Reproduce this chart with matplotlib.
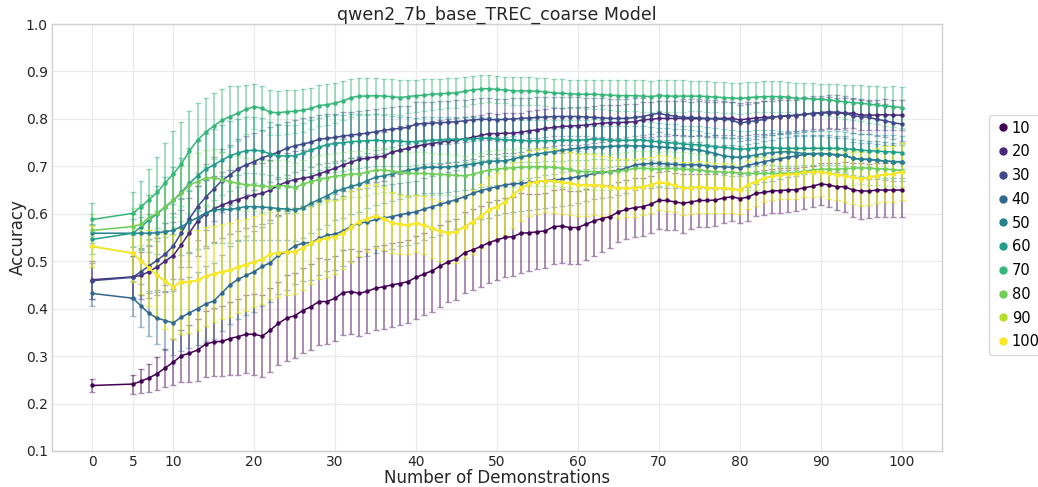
import numpy as np
import matplotlib
matplotlib.use("Agg")
import matplotlib.pyplot as plt
from matplotlib.lines import Line2D

# number of in-context demonstrations
demos = [0] + list(range(5, 101))
settings = ["10", "20", "30", "40", "50", "60", "70", "80", "90", "100"]

acc_10 = [
    0.238, 0.241, 0.247, 0.254, 0.263, 0.275, 0.287, 0.301, 0.306, 0.313,
    0.325, 0.330, 0.331, 0.337, 0.341, 0.346, 0.346, 0.342, 0.355, 0.369,
    0.380, 0.385, 0.396, 0.404, 0.415, 0.415, 0.422, 0.434, 0.436, 0.432,
    0.437, 0.443, 0.446, 0.450, 0.453, 0.457, 0.466, 0.473, 0.480, 0.490,
    0.499, 0.504, 0.518, 0.524, 0.531, 0.539, 0.545, 0.550, 0.552, 0.559,
    0.560, 0.562, 0.564, 0.573, 0.574, 0.571, 0.571, 0.578, 0.585, 0.590,
    0.594, 0.604, 0.609, 0.613, 0.615, 0.620, 0.628, 0.628, 0.625, 0.622,
    0.625, 0.628, 0.628, 0.629, 0.633, 0.636, 0.632, 0.635, 0.643, 0.645,
    0.648, 0.649, 0.650, 0.651, 0.655, 0.658, 0.663, 0.661, 0.657, 0.657,
    0.650, 0.648, 0.648, 0.650, 0.650, 0.650, 0.650]
acc_20 = [
    0.461, 0.467, 0.470, 0.478, 0.488, 0.500, 0.512, 0.535, 0.560, 0.585,
    0.600, 0.610, 0.618, 0.625, 0.630, 0.636, 0.640, 0.643, 0.650, 0.660,
    0.667, 0.672, 0.675, 0.678, 0.684, 0.690, 0.696, 0.703, 0.709, 0.715,
    0.717, 0.720, 0.721, 0.730, 0.734, 0.738, 0.742, 0.746, 0.748, 0.751,
    0.754, 0.755, 0.758, 0.761, 0.765, 0.769, 0.769, 0.770, 0.770, 0.772,
    0.775, 0.777, 0.780, 0.782, 0.784, 0.785, 0.786, 0.787, 0.789, 0.791,
    0.792, 0.792, 0.793, 0.794, 0.798, 0.799, 0.801, 0.801, 0.801, 0.801,
    0.800, 0.801, 0.800, 0.801, 0.801, 0.801, 0.798, 0.800, 0.802, 0.803,
    0.804, 0.805, 0.806, 0.807, 0.810, 0.811, 0.812, 0.813, 0.812, 0.812,
    0.812, 0.808, 0.808, 0.808, 0.809, 0.808, 0.808]
acc_30 = [
    0.459, 0.466, 0.478, 0.490, 0.502, 0.515, 0.532, 0.560, 0.590, 0.615,
    0.635, 0.652, 0.670, 0.682, 0.695, 0.703, 0.710, 0.718, 0.724, 0.730,
    0.738, 0.743, 0.747, 0.751, 0.757, 0.759, 0.761, 0.764, 0.766, 0.768,
    0.770, 0.773, 0.776, 0.778, 0.780, 0.782, 0.789, 0.790, 0.791, 0.792,
    0.793, 0.794, 0.796, 0.798, 0.799, 0.799, 0.798, 0.799, 0.800, 0.801,
    0.802, 0.803, 0.804, 0.805, 0.805, 0.805, 0.805, 0.804, 0.803, 0.802,
    0.801, 0.801, 0.801, 0.803, 0.805, 0.809, 0.812, 0.808, 0.806, 0.803,
    0.803, 0.802, 0.801, 0.800, 0.799, 0.798, 0.791, 0.794, 0.796, 0.799,
    0.803, 0.806, 0.807, 0.808, 0.810, 0.812, 0.813, 0.815, 0.814, 0.813,
    0.806, 0.805, 0.803, 0.799, 0.796, 0.792, 0.789]
acc_40 = [
    0.432, 0.422, 0.406, 0.390, 0.380, 0.375, 0.370, 0.382, 0.391, 0.400,
    0.410, 0.416, 0.433, 0.450, 0.462, 0.470, 0.478, 0.489, 0.497, 0.513,
    0.520, 0.532, 0.538, 0.539, 0.548, 0.555, 0.557, 0.564, 0.574, 0.580,
    0.583, 0.588, 0.591, 0.594, 0.598, 0.601, 0.604, 0.610, 0.615, 0.620,
    0.625, 0.630, 0.636, 0.643, 0.649, 0.653, 0.657, 0.661, 0.663, 0.664,
    0.666, 0.668, 0.670, 0.671, 0.673, 0.675, 0.678, 0.681, 0.685, 0.687,
    0.689, 0.692, 0.696, 0.703, 0.705, 0.706, 0.706, 0.705, 0.704, 0.703,
    0.703, 0.703, 0.701, 0.699, 0.699, 0.698, 0.697, 0.702, 0.706, 0.710,
    0.713, 0.716, 0.719, 0.722, 0.725, 0.726, 0.727, 0.726, 0.724, 0.723,
    0.717, 0.715, 0.714, 0.713, 0.711, 0.710, 0.709]
acc_50 = [
    0.559, 0.559, 0.559, 0.559, 0.560, 0.562, 0.565, 0.573, 0.583, 0.592,
    0.602, 0.608, 0.609, 0.609, 0.612, 0.615, 0.615, 0.614, 0.613, 0.611,
    0.610, 0.608, 0.612, 0.622, 0.630, 0.638, 0.647, 0.652, 0.658, 0.662,
    0.670, 0.677, 0.680, 0.684, 0.688, 0.692, 0.695, 0.698, 0.698, 0.698,
    0.699, 0.700, 0.703, 0.705, 0.708, 0.710, 0.711, 0.712, 0.715, 0.720,
    0.723, 0.726, 0.729, 0.731, 0.734, 0.736, 0.738, 0.740, 0.741, 0.741,
    0.742, 0.743, 0.743, 0.743, 0.743, 0.742, 0.741, 0.740, 0.739, 0.738,
    0.736, 0.734, 0.731, 0.727, 0.722, 0.720, 0.719, 0.721, 0.724, 0.727,
    0.729, 0.730, 0.731, 0.729, 0.727, 0.727, 0.727, 0.726, 0.724, 0.723,
    0.717, 0.715, 0.715, 0.713, 0.711, 0.710, 0.710]
acc_60 = [
    0.546, 0.559, 0.572, 0.587, 0.600, 0.614, 0.628, 0.645, 0.664, 0.680,
    0.694, 0.703, 0.713, 0.722, 0.728, 0.733, 0.734, 0.732, 0.726, 0.722,
    0.722, 0.722, 0.728, 0.734, 0.740, 0.746, 0.748, 0.750, 0.752, 0.753,
    0.754, 0.755, 0.754, 0.754, 0.753, 0.752, 0.752, 0.754, 0.755, 0.756,
    0.757, 0.757, 0.757, 0.758, 0.759, 0.759, 0.757, 0.756, 0.755, 0.754,
    0.754, 0.754, 0.754, 0.754, 0.755, 0.755, 0.755, 0.756, 0.758, 0.757,
    0.755, 0.755, 0.755, 0.755, 0.756, 0.753, 0.752, 0.750, 0.749, 0.747,
    0.746, 0.745, 0.743, 0.741, 0.740, 0.738, 0.736, 0.737, 0.739, 0.740,
    0.739, 0.738, 0.738, 0.738, 0.738, 0.738, 0.738, 0.738, 0.738, 0.737,
    0.736, 0.734, 0.733, 0.732, 0.731, 0.730, 0.729]
acc_70 = [
    0.588, 0.601, 0.615, 0.630, 0.645, 0.665, 0.684, 0.705, 0.733, 0.755,
    0.772, 0.785, 0.797, 0.805, 0.812, 0.820, 0.826, 0.822, 0.814, 0.813,
    0.815, 0.816, 0.818, 0.822, 0.828, 0.830, 0.833, 0.838, 0.845, 0.848,
    0.848, 0.849, 0.848, 0.847, 0.845, 0.847, 0.849, 0.850, 0.852, 0.853,
    0.854, 0.855, 0.858, 0.861, 0.863, 0.864, 0.862, 0.861, 0.859, 0.859,
    0.859, 0.858, 0.857, 0.855, 0.854, 0.853, 0.852, 0.852, 0.852, 0.851,
    0.850, 0.849, 0.849, 0.849, 0.848, 0.847, 0.849, 0.848, 0.848, 0.848,
    0.848, 0.848, 0.847, 0.846, 0.845, 0.844, 0.843, 0.845, 0.846, 0.847,
    0.847, 0.847, 0.846, 0.843, 0.843, 0.842, 0.841, 0.840, 0.838, 0.836,
    0.834, 0.833, 0.831, 0.829, 0.827, 0.826, 0.824]
acc_80 = [
    0.565, 0.573, 0.578, 0.592, 0.601, 0.615, 0.629, 0.643, 0.661, 0.668,
    0.675, 0.676, 0.672, 0.668, 0.664, 0.661, 0.660, 0.658, 0.657, 0.659,
    0.659, 0.655, 0.662, 0.668, 0.672, 0.676, 0.679, 0.681, 0.684, 0.684,
    0.688, 0.692, 0.692, 0.690, 0.687, 0.685, 0.685, 0.685, 0.684, 0.683,
    0.682, 0.681, 0.680, 0.683, 0.688, 0.692, 0.694, 0.696, 0.697, 0.698,
    0.699, 0.699, 0.699, 0.698, 0.696, 0.694, 0.689, 0.689, 0.689, 0.689,
    0.689, 0.690, 0.692, 0.696, 0.696, 0.695, 0.694, 0.696, 0.695, 0.694,
    0.693, 0.692, 0.690, 0.689, 0.688, 0.687, 0.686, 0.685, 0.685, 0.685,
    0.685, 0.685, 0.686, 0.686, 0.690, 0.692, 0.694, 0.694, 0.694, 0.695,
    0.696, 0.697, 0.696, 0.695, 0.694, 0.693, 0.691]
acc_100 = [
    0.531, 0.517, 0.500, 0.486, 0.470, 0.458, 0.446, 0.457, 0.456, 0.460,
    0.468, 0.473, 0.478, 0.481, 0.488, 0.493, 0.499, 0.504, 0.515, 0.518,
    0.519, 0.520, 0.527, 0.538, 0.545, 0.548, 0.552, 0.559, 0.573, 0.583,
    0.590, 0.595, 0.590, 0.581, 0.578, 0.576, 0.580, 0.576, 0.569, 0.563,
    0.560, 0.562, 0.573, 0.583, 0.595, 0.608, 0.615, 0.625, 0.640, 0.654,
    0.664, 0.668, 0.670, 0.669, 0.666, 0.664, 0.661, 0.661, 0.661, 0.659,
    0.657, 0.654, 0.654, 0.654, 0.657, 0.661, 0.666, 0.664, 0.660, 0.654,
    0.655, 0.657, 0.655, 0.654, 0.654, 0.653, 0.650, 0.661, 0.668, 0.675,
    0.679, 0.682, 0.683, 0.684, 0.687, 0.688, 0.689, 0.685, 0.682, 0.680,
    0.677, 0.673, 0.677, 0.680, 0.683, 0.683, 0.689]
# the 90 runs came out the same as the 100 runs
acc_90 = list(acc_100)

std_10 = [
    0.014, 0.020, 0.025, 0.030, 0.035, 0.040, 0.048, 0.055, 0.060, 0.065,
    0.070, 0.072, 0.074, 0.076, 0.080, 0.082, 0.085, 0.086, 0.088, 0.088,
    0.090, 0.090, 0.090, 0.091, 0.091, 0.090, 0.090, 0.090, 0.090, 0.089,
    0.089, 0.089, 0.089, 0.088, 0.088, 0.088, 0.088, 0.087, 0.087, 0.087,
    0.086, 0.086, 0.086, 0.085, 0.085, 0.085, 0.085, 0.084, 0.084, 0.084,
    0.081, 0.079, 0.079, 0.078, 0.078, 0.077, 0.076, 0.075, 0.073, 0.070,
    0.066, 0.063, 0.063, 0.062, 0.061, 0.060, 0.060, 0.062, 0.060, 0.062,
    0.058, 0.055, 0.056, 0.054, 0.053, 0.052, 0.051, 0.050, 0.048, 0.047,
    0.047, 0.047, 0.046, 0.045, 0.044, 0.043, 0.045, 0.047, 0.050, 0.053,
    0.056, 0.058, 0.057, 0.057, 0.056, 0.056, 0.056]
std_20 = [
    0.040, 0.045, 0.050, 0.055, 0.060, 0.065, 0.070, 0.072, 0.073, 0.073,
    0.072, 0.070, 0.069, 0.068, 0.067, 0.066, 0.065, 0.064, 0.063, 0.062,
    0.061, 0.060, 0.059, 0.058, 0.057, 0.056, 0.055, 0.055, 0.054, 0.053,
    0.053, 0.052, 0.051, 0.051, 0.050, 0.049, 0.048, 0.048, 0.047, 0.047,
    0.046, 0.046, 0.045, 0.045, 0.044, 0.043, 0.042, 0.042, 0.042, 0.041,
    0.041, 0.041, 0.040, 0.040, 0.040, 0.040, 0.040, 0.039, 0.039, 0.039,
    0.038, 0.038, 0.038, 0.038, 0.037, 0.037, 0.037, 0.037, 0.036, 0.036,
    0.036, 0.036, 0.036, 0.035, 0.035, 0.035, 0.035, 0.035, 0.034, 0.034,
    0.034, 0.034, 0.034, 0.033, 0.033, 0.033, 0.033, 0.033, 0.033, 0.032,
    0.032, 0.032, 0.032, 0.032, 0.032, 0.032, 0.032]
std_30 = [
    0.038, 0.045, 0.050, 0.056, 0.062, 0.066, 0.070, 0.072, 0.072, 0.071,
    0.070, 0.068, 0.066, 0.064, 0.062, 0.061, 0.060, 0.059, 0.058, 0.057,
    0.056, 0.055, 0.054, 0.053, 0.052, 0.051, 0.050, 0.050, 0.049, 0.049,
    0.048, 0.048, 0.047, 0.047, 0.047, 0.046, 0.046, 0.046, 0.045, 0.045,
    0.045, 0.045, 0.044, 0.044, 0.044, 0.044, 0.044, 0.043, 0.043, 0.043,
    0.043, 0.043, 0.042, 0.042, 0.042, 0.042, 0.042, 0.041, 0.041, 0.041,
    0.041, 0.041, 0.040, 0.040, 0.040, 0.040, 0.040, 0.040, 0.040, 0.039,
    0.039, 0.039, 0.039, 0.039, 0.039, 0.038, 0.038, 0.038, 0.038, 0.038,
    0.038, 0.037, 0.037, 0.037, 0.037, 0.037, 0.036, 0.036, 0.036, 0.036,
    0.036, 0.036, 0.035, 0.035, 0.035, 0.035, 0.035]
std_40 = [
    0.027, 0.037, 0.045, 0.048, 0.055, 0.062, 0.068, 0.072, 0.075, 0.077,
    0.079, 0.080, 0.081, 0.082, 0.083, 0.084, 0.085, 0.084, 0.083, 0.082,
    0.081, 0.080, 0.079, 0.078, 0.077, 0.076, 0.075, 0.074, 0.073, 0.072,
    0.071, 0.070, 0.069, 0.068, 0.067, 0.066, 0.065, 0.065, 0.064, 0.064,
    0.063, 0.063, 0.062, 0.062, 0.061, 0.061, 0.060, 0.060, 0.059, 0.059,
    0.058, 0.058, 0.057, 0.057, 0.056, 0.056, 0.055, 0.055, 0.054, 0.054,
    0.053, 0.053, 0.052, 0.052, 0.051, 0.051, 0.050, 0.050, 0.049, 0.049,
    0.048, 0.048, 0.047, 0.047, 0.046, 0.046, 0.045, 0.045, 0.044, 0.044,
    0.043, 0.043, 0.042, 0.042, 0.041, 0.041, 0.040, 0.040, 0.040, 0.040,
    0.040, 0.040, 0.040, 0.040, 0.040, 0.040, 0.040]
std_50 = [
    0.020, 0.030, 0.035, 0.040, 0.045, 0.050, 0.055, 0.060, 0.064, 0.067,
    0.069, 0.070, 0.070, 0.070, 0.070, 0.070, 0.070, 0.069, 0.068, 0.067,
    0.066, 0.065, 0.064, 0.063, 0.062, 0.061, 0.060, 0.060, 0.059, 0.059,
    0.058, 0.058, 0.057, 0.057, 0.056, 0.056, 0.055, 0.055, 0.054, 0.054,
    0.053, 0.053, 0.052, 0.052, 0.051, 0.051, 0.050, 0.050, 0.049, 0.049,
    0.048, 0.048, 0.047, 0.047, 0.046, 0.046, 0.045, 0.045, 0.044, 0.044,
    0.043, 0.043, 0.042, 0.042, 0.041, 0.041, 0.040, 0.040, 0.040, 0.040,
    0.040, 0.040, 0.040, 0.040, 0.040, 0.040, 0.040, 0.039, 0.039, 0.039,
    0.038, 0.038, 0.038, 0.037, 0.037, 0.037, 0.036, 0.036, 0.036, 0.036,
    0.035, 0.035, 0.035, 0.035, 0.035, 0.035, 0.035]
std_60 = [
    0.030, 0.040, 0.047, 0.053, 0.058, 0.064, 0.070, 0.072, 0.074, 0.075,
    0.075, 0.075, 0.074, 0.073, 0.072, 0.071, 0.070, 0.069, 0.068, 0.067,
    0.066, 0.065, 0.064, 0.063, 0.062, 0.061, 0.060, 0.059, 0.058, 0.057,
    0.056, 0.055, 0.054, 0.053, 0.052, 0.051, 0.050, 0.050, 0.049, 0.049,
    0.048, 0.048, 0.047, 0.047, 0.046, 0.046, 0.045, 0.045, 0.045, 0.044,
    0.044, 0.044, 0.043, 0.043, 0.043, 0.042, 0.042, 0.042, 0.042, 0.041,
    0.041, 0.041, 0.041, 0.041, 0.040, 0.040, 0.040, 0.040, 0.040, 0.039,
    0.039, 0.039, 0.039, 0.039, 0.038, 0.038, 0.038, 0.038, 0.038, 0.037,
    0.037, 0.037, 0.037, 0.037, 0.036, 0.036, 0.036, 0.036, 0.036, 0.036,
    0.035, 0.035, 0.035, 0.035, 0.035, 0.035, 0.035]
std_70 = [
    0.035, 0.045, 0.055, 0.065, 0.075, 0.085, 0.090, 0.088, 0.083, 0.078,
    0.073, 0.070, 0.067, 0.064, 0.058, 0.052, 0.047, 0.047, 0.047, 0.046,
    0.046, 0.045, 0.045, 0.044, 0.043, 0.043, 0.042, 0.041, 0.040, 0.039,
    0.039, 0.038, 0.037, 0.037, 0.036, 0.035, 0.034, 0.034, 0.033, 0.032,
    0.032, 0.031, 0.030, 0.029, 0.029, 0.028, 0.028, 0.028, 0.029, 0.029,
    0.029, 0.029, 0.030, 0.030, 0.030, 0.030, 0.030, 0.031, 0.031, 0.031,
    0.032, 0.032, 0.032, 0.032, 0.033, 0.033, 0.033, 0.033, 0.033, 0.033,
    0.032, 0.032, 0.032, 0.032, 0.032, 0.032, 0.032, 0.032, 0.032, 0.032,
    0.032, 0.032, 0.032, 0.033, 0.033, 0.033, 0.033, 0.034, 0.035, 0.036,
    0.037, 0.038, 0.039, 0.040, 0.041, 0.043, 0.044]
std_80 = [
    0.035, 0.040, 0.043, 0.047, 0.050, 0.053, 0.056, 0.058, 0.060, 0.060,
    0.060, 0.060, 0.059, 0.058, 0.057, 0.056, 0.055, 0.055, 0.054, 0.054,
    0.053, 0.053, 0.052, 0.052, 0.051, 0.051, 0.050, 0.050, 0.049, 0.049,
    0.048, 0.048, 0.047, 0.047, 0.046, 0.046, 0.045, 0.045, 0.044, 0.044,
    0.043, 0.043, 0.042, 0.042, 0.041, 0.041, 0.040, 0.040, 0.040, 0.040,
    0.040, 0.040, 0.040, 0.040, 0.040, 0.040, 0.040, 0.039, 0.039, 0.039,
    0.038, 0.038, 0.038, 0.037, 0.037, 0.037, 0.036, 0.036, 0.036, 0.036,
    0.035, 0.035, 0.035, 0.035, 0.035, 0.035, 0.035, 0.035, 0.035, 0.035,
    0.035, 0.035, 0.035, 0.035, 0.035, 0.035, 0.035, 0.035, 0.035, 0.035,
    0.035, 0.035, 0.035, 0.035, 0.035, 0.035, 0.035]
std_100 = [
    0.044, 0.060, 0.070, 0.080, 0.090, 0.100, 0.110, 0.110, 0.108, 0.106,
    0.104, 0.102, 0.100, 0.099, 0.098, 0.097, 0.096, 0.095, 0.094, 0.093,
    0.091, 0.089, 0.087, 0.085, 0.083, 0.081, 0.078, 0.076, 0.074, 0.072,
    0.070, 0.068, 0.066, 0.064, 0.062, 0.061, 0.060, 0.061, 0.062, 0.063,
    0.064, 0.065, 0.066, 0.067, 0.068, 0.069, 0.070, 0.070, 0.069, 0.069,
    0.068, 0.068, 0.067, 0.067, 0.066, 0.066, 0.065, 0.065, 0.064, 0.063,
    0.063, 0.062, 0.061, 0.061, 0.060, 0.059, 0.058, 0.058, 0.057, 0.056,
    0.055, 0.055, 0.054, 0.053, 0.052, 0.051, 0.050, 0.050, 0.051, 0.051,
    0.051, 0.051, 0.052, 0.052, 0.052, 0.052, 0.052, 0.053, 0.054, 0.055,
    0.056, 0.057, 0.058, 0.058, 0.059, 0.059, 0.060]
std_90 = list(std_100)

means = [acc_10, acc_20, acc_30, acc_40, acc_50,
         acc_60, acc_70, acc_80, acc_90, acc_100]
stds = [std_10, std_20, std_30, std_40, std_50,
        std_60, std_70, std_80, std_90, std_100]


def plot_accuracy_curves(model_name):
    fig = plt.figure(figsize=(10.38, 4.87), dpi=100)
    ax = fig.add_axes([0.050, 0.074, 0.8575, 0.8767])
    colors = plt.cm.viridis(np.linspace(0, 1, len(settings)))

    for label, mean, std, color in zip(settings, means, stds, colors):
        eb = ax.errorbar(demos, mean, yerr=std, fmt="-o", color=color,
                         markersize=2.2, linewidth=1.1, elinewidth=1.4,
                         capsize=2, capthick=1.0, label=label)
        eb[2][0].set_alpha(0.45)
        for cap in eb[1]:
            cap.set_alpha(0.45)

    ax.set_xlim(-5, 105)
    ax.set_ylim(0.1, 1.0)
    ax.set_xticks([0, 5, 10, 20, 30, 40, 50, 60, 70, 80, 90, 100])
    yticks = np.arange(0.1, 1.01, 0.1)
    ax.set_yticks(yticks)
    ax.set_yticklabels([f"{t:.1f}" for t in yticks])
    ax.tick_params(length=0, labelsize=10, colors="#262626", pad=3)
    ax.grid(True, color="#ebebeb", linewidth=0.9)
    ax.set_axisbelow(True)
    for spine in ax.spines.values():
        spine.set_color("#d0d0d0")
        spine.set_linewidth(1.0)

    ax.set_xlabel("Number of Demonstrations", fontsize=12, color="#262626", labelpad=0)
    ax.set_ylabel("Accuracy", fontsize=12, color="#262626", labelpad=-1)
    ax.set_title(f"{model_name} Model", fontsize=12.5, color="#262626", pad=-2)

    handles = [Line2D([], [], marker="o", linestyle="none", color=c, markersize=5)
               for c in colors]
    leg = ax.legend(handles, settings, loc="center left", bbox_to_anchor=(1.053, 0.506),
                    fontsize=10.5, frameon=True, handletextpad=0.05, borderpad=0.4,
                    handlelength=1.1, labelspacing=0.6, borderaxespad=0)
    leg.get_frame().set_edgecolor("#d0d0d0")
    return fig


fig = plot_accuracy_curves("qwen2_7b_base_TREC_coarse")
fig.savefig("out.png", dpi=100)
